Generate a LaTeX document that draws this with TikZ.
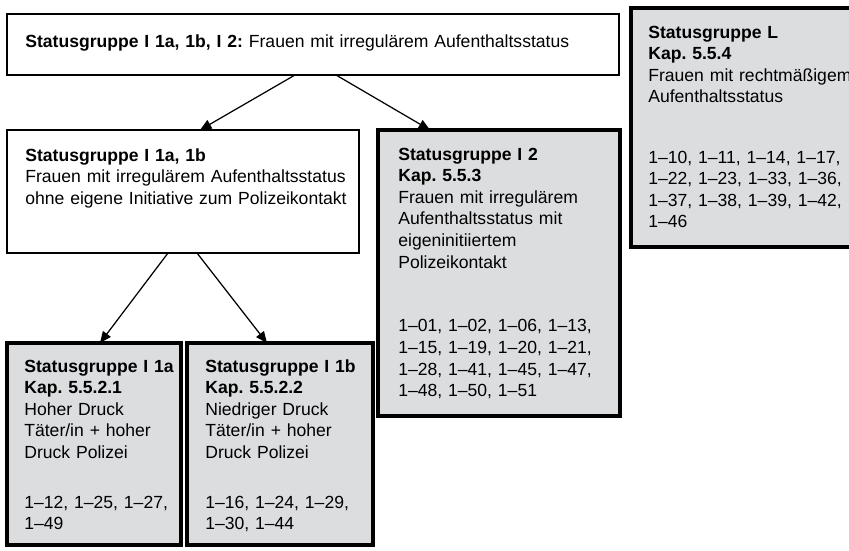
\documentclass[tikz,border=0pt]{standalone}
\usepackage{fontspec}
\setmainfont{Liberation Sans}
\usetikzlibrary{arrows.meta,fit}
\definecolor{boxgray}{RGB}{220,221,223}
\frenchspacing

\begin{document}
\begin{tikzpicture}[x=0.02cm, y=-0.02cm,
	every node/.style={font=\fontsize{10}{12.3}\selectfont},
	plainbox/.style={draw, line width=0.85pt, fill=white, inner sep=0pt, outer sep=0pt},
	groupbox/.style={draw, line width=2.3pt, fill=boxgray, inner sep=0pt, outer sep=0pt},
	boxtext/.style={anchor=base west, align=left, inner sep=0pt, text width=4.6cm},
	link/.style={line width=0.7pt, -{Triangle[length=6.5pt,width=5.5pt]}}]
	\useasboundingbox (0,0) rectangle (849,551);
	\clip (0,0) rectangle (849,551);
	% boxes
	\node[plainbox, fit={(7,14) (619,75)}] (top) {};
	\node[plainbox, fit={(7,130) (359,253)}] (grpI) {};
	\node[groupbox, fit={(378,130) (620,416)}] (grpItwo) {};
	\node[groupbox, fit={(631,8) (870,247)}] (grpL) {};
	\node[groupbox, fit={(7,343) (181,545)}] (grpIa) {};
	\node[groupbox, fit={(187,343) (373,545)}] (grpIb) {};
	% texts
	\node[boxtext, text width=11cm] (topText) at ([shift={(18,34)}]top.north west)
		{\textbf{Statusgruppe I 1a, 1b, I 2:} Frauen mit irregulärem Aufenthaltsstatus};
	\node[boxtext, text width=6.6cm] (grpIText) at ([shift={(18,31)}]grpI.north west)
		{\textbf{Statusgruppe I 1a, 1b}\\Frauen mit irregulärem Aufenthaltsstatus\\ohne eigene Initiative zum Polizeikontakt};
	\node[boxtext] (grpItwoText) at ([shift={(20,30)}]grpItwo.north west)
		{\textbf{Statusgruppe I 2}\\\textbf{Kap. 5.5.3}\\Frauen mit irregulärem\\Aufenthaltsstatus mit\\eigeninitiiertem\\Polizeikontakt\\[24pt]
		1--01, 1--02, 1--06, 1--13,\\1--15, 1--19, 1--20, 1--21,\\1--28, 1--41, 1--45, 1--47,\\1--48, 1--50, 1--51};
	\node[boxtext] (grpLText) at ([shift={(17,30)}]grpL.north west)
		{\textbf{Statusgruppe L}\\\textbf{Kap. 5.5.4}\\Frauen mit rechtmäßigem\\Aufenthaltsstatus\\[22pt]
		1--10, 1--11, 1--14, 1--17,\\1--22, 1--23, 1--33, 1--36,\\1--37, 1--38, 1--39, 1--42,\\1--46};
	\node[boxtext] (grpIaText) at ([shift={(17,29)}]grpIa.north west)
		{\textbf{Statusgruppe I 1a}\\\textbf{Kap. 5.5.2.1}\\Hoher Druck\\Täter/in + hoher\\Druck Polizei\\[16pt]
		1--12, 1--25, 1--27,\\1--49};
	\node[boxtext] (grpIbText) at ([shift={(18,29)}]grpIb.north west)
		{\textbf{Statusgruppe I 1b}\\\textbf{Kap. 5.5.2.2}\\Niedriger Druck\\Täter/in + hoher\\Druck Polizei\\[16pt]
		1--16, 1--24, 1--29,\\1--30, 1--44};
	% arrows
	\draw[link] ([shift={(288,0)}]top.south west) -- ([shift={(193,0)}]grpI.north west);
	\draw[link] ([shift={(329,0)}]top.south west) -- ([shift={(52,0)}]grpItwo.north west);
	\draw[link] ([shift={(161,0)}]grpI.south west) -- ([shift={(93,0)}]grpIa.north west);
	\draw[link] ([shift={(190,0)}]grpI.south west) -- ([shift={(80,0)}]grpIb.north west);
\end{tikzpicture}
\end{document}
